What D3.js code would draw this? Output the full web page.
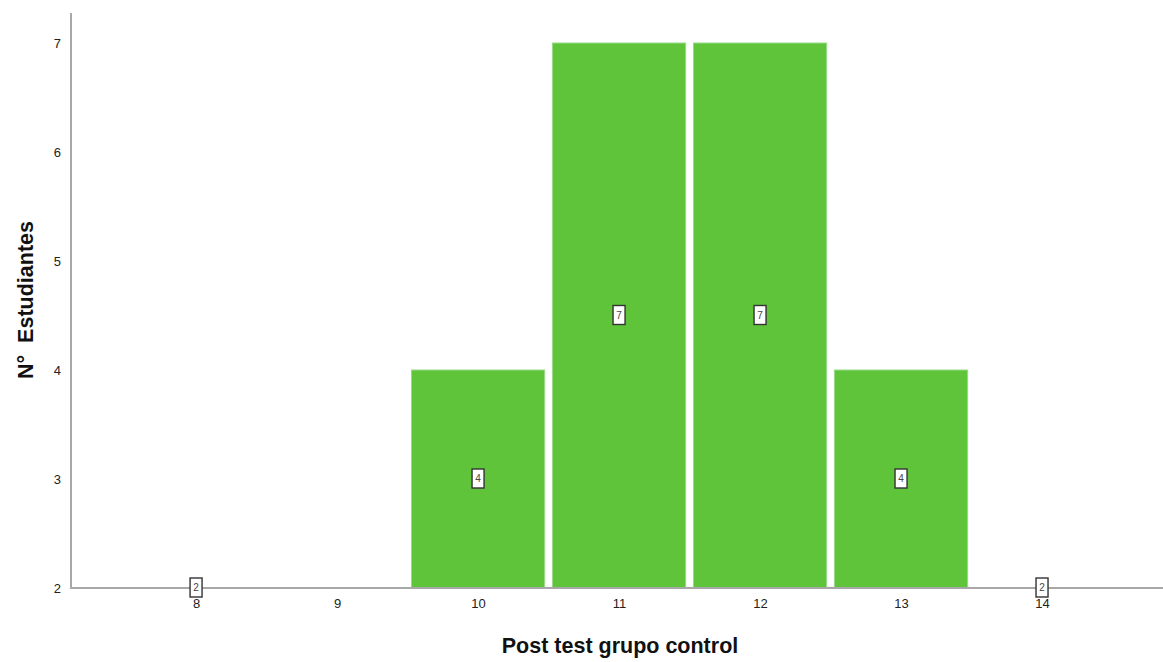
<!DOCTYPE html>
<html><head><meta charset="utf-8">
<script src="https://cdn.jsdelivr.net/npm/d3@7"></script>
<style>body{margin:0;background:#fff;}svg{display:block;font-family:Arial,"Liberation Sans",sans-serif;}</style>
</head><body><svg id="c" width="1163" height="662"></svg>
<script>
const categories = [8, 9, 10, 11, 12, 13, 14];
const values = [2, null, 4, 7, 7, 4, 2];
const yTicks = [2, 3, 4, 5, 6, 7];
const xTitle = "Post test grupo control";
const yTitle = "N°  Estudiantes";

const svg = d3.select("#c");
const x = d3.scaleLinear().domain([7.113, 14.858]).range([71, 1163]);
const y = d3.scaleLinear().domain([2, 7]).range([588, 43]);
const step = x(9) - x(8);
const bw = step * 0.945;
const data = categories.map((c, i) => ({c, v: values[i]})).filter(d => d.v != null);

svg.append("g").selectAll("rect").data(data.filter(d => d.v > 2)).join("rect")
  .attr("x", d => x(d.c) - bw / 2).attr("width", bw)
  .attr("y", d => y(d.v)).attr("height", d => y(2) - y(d.v))
  .attr("fill", "#5fc43a").attr("stroke", "#9ad98a").attr("stroke-width", 1);

// axes
const yAxis = d3.axisLeft(y).tickValues(yTicks).tickSize(0).tickPadding(10).tickFormat(d3.format("d"));
const gy = svg.append("g").attr("transform", "translate(71,0)").call(yAxis);
gy.select(".domain").remove();
gy.selectAll("text").attr("font-size", 13).attr("fill", "#222");
svg.append("line").attr("x1", 71).attr("x2", 71).attr("y1", y(7.275)).attr("y2", y(2)).attr("stroke", "#a8a8a8").attr("stroke-width", 2);

const xAxis = d3.axisBottom(x).tickValues(categories).tickSize(0).tickPadding(11).tickFormat(d3.format("d"));
const gx = svg.append("g").attr("transform", "translate(0,588)").call(xAxis);
gx.select(".domain").remove();
gx.selectAll("text").attr("font-size", 13).attr("fill", "#222");
svg.append("line").attr("x1", 70).attr("x2", 1163).attr("y1", 588).attr("y2", 588).attr("stroke", "#a8a8a8").attr("stroke-width", 2);

// value labels
const lab = svg.append("g").selectAll("g").data(data).join("g")
  .attr("transform", d => `translate(${x(d.c)},${y((2 + d.v) / 2)})`);
lab.append("rect").attr("x", -6).attr("y", -10).attr("width", 12).attr("height", 19)
  .attr("fill", "#fff").attr("stroke", "#333").attr("stroke-width", 1.4);
lab.append("text").attr("text-anchor", "middle").attr("dy", "0.3em").attr("font-size", 10).attr("fill", "#444").text(d => d.v);

svg.append("text").attr("x", 620).attr("y", 653).attr("text-anchor", "middle")
  .attr("font-size", 21.5).attr("font-weight", "bold").attr("fill", "#111").text(xTitle);
svg.append("text").attr("transform", "translate(33,300) rotate(-90)").attr("text-anchor", "middle")
  .style("white-space", "pre")
  .attr("font-size", 21.5).attr("font-weight", "bold").attr("fill", "#111").text(yTitle);
</script></body></html>
